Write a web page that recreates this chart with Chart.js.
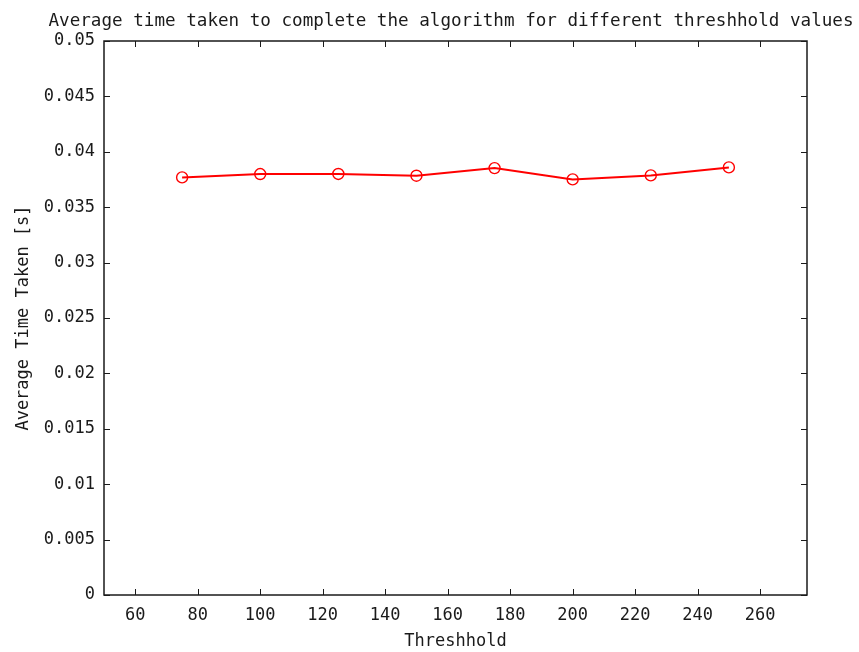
<!DOCTYPE html>
<html>
<head>
<meta charset="utf-8">
<title>Average time vs threshhold</title>
<script src="https://cdn.jsdelivr.net/npm/chart.js@4.4.1/dist/chart.umd.min.js"></script>
<style>
  html, body { margin: 0; padding: 0; background: #fff; }
  #wrap { width: 859px; height: 652px; position: relative; }
</style>
</head>
<body>
<div id="wrap"><canvas id="timeChart"></canvas></div>
<script>
// ── Data ─────────────────────────────────────────────────────
var THRESHOLDS = [75, 100, 125, 150, 175, 200, 225, 250];
var AVG_TIME   = [0.03769, 0.03799, 0.03800, 0.03784, 0.03853, 0.03751, 0.03787, 0.03859];
var X_TICKS    = [60, 80, 100, 120, 140, 160, 180, 200, 220, 240, 260];
var Y_TICKS    = [0, 0.005, 0.01, 0.015, 0.02, 0.025, 0.03, 0.035, 0.04, 0.045, 0.05];
var TITLE      = 'Average time taken to complete the algorithm for different threshhold values';

var FONT = '"DejaVu Sans Mono", "Liberation Mono", monospace';
var INK  = '#1a1a1a';

// ── Box round the plot, inward ticks on all four sides, title ─
var frame = {
  id: 'frame',
  beforeDatasetsDraw: function (chart) {
    var a = chart.chartArea, ctx = chart.ctx;
    var xs = chart.scales.x, ys = chart.scales.y, len = 6;
    ctx.save();
    ctx.strokeStyle = INK;
    ctx.lineWidth = 1.5;
    ctx.strokeRect(a.left, a.top, a.right - a.left, a.bottom - a.top);
    ctx.lineWidth = 1;
    ctx.beginPath();
    X_TICKS.forEach(function (v) {
      var px = Math.round(xs.getPixelForValue(v)) + 0.5;
      ctx.moveTo(px, a.bottom); ctx.lineTo(px, a.bottom - len);
      ctx.moveTo(px, a.top);    ctx.lineTo(px, a.top + len);
    });
    Y_TICKS.forEach(function (v) {
      var py = Math.round(ys.getPixelForValue(v)) + 0.5;
      ctx.moveTo(a.left, py);  ctx.lineTo(a.left + len, py);
      ctx.moveTo(a.right, py); ctx.lineTo(a.right - len, py);
    });
    ctx.stroke();

    // title runs wider than the plot box, so it is placed by hand
    ctx.fillStyle = INK;
    ctx.font = '17.6px ' + FONT;
    ctx.textAlign = 'center';
    ctx.textBaseline = 'middle';
    ctx.fillText(TITLE, 451, 21);
    ctx.restore();
  }
};

new Chart(document.getElementById('timeChart').getContext('2d'), {
  type: 'line',
  data: {
    datasets: [{
      label: 'Average time',
      data: THRESHOLDS.map(function (t, i) { return { x: t, y: AVG_TIME[i] }; }),
      borderColor: '#ff0000',
      borderWidth: 2,
      pointStyle: 'circle',
      pointRadius: 5.5,
      pointBorderWidth: 1.4,
      pointBorderColor: '#ff0000',
      pointBackgroundColor: 'rgba(0,0,0,0)',
      fill: false,
      tension: 0
    }]
  },
  options: {
    responsive: true,
    maintainAspectRatio: false,
    animation: false,
    layout: { padding: { left: 0, right: 52, top: 41, bottom: 0 } },
    plugins: {
      legend: { display: false },
      tooltip: { enabled: false },
      title: { display: false }
    },
    scales: {
      x: {
        type: 'linear',
        min: 50,
        max: 275,
        afterBuildTicks: function (s) { s.ticks = X_TICKS.map(function (v) { return { value: v }; }); },
        afterFit: function (s) { s.height = 57; },
        border: { display: false },
        grid: { display: false, drawTicks: false },
        ticks: { color: INK, padding: 10, maxRotation: 0, autoSkip: false, font: { family: FONT, size: 17 } },
        title: {
          display: true,
          text: 'Threshhold',
          color: INK,
          font: { family: FONT, size: 17, lineHeight: 1.2 },
          padding: { top: 0, bottom: 0 }
        }
      },
      y: {
        type: 'linear',
        min: 0,
        max: 0.05,
        afterBuildTicks: function (s) { s.ticks = Y_TICKS.map(function (v) { return { value: v }; }); },
        afterFit: function (s) { s.width = 104; },
        border: { display: false },
        grid: { display: false, drawTicks: false },
        ticks: {
          color: INK,
          padding: 9,
          autoSkip: false,
          font: { family: FONT, size: 17 },
          callback: function (v) { return String(+v.toFixed(3)); }
        },
        title: {
          display: true,
          text: 'Average Time Taken [s]',
          color: INK,
          font: { family: FONT, size: 17, lineHeight: 1.2 },
          padding: { top: 13, bottom: 0 }
        }
      }
    }
  },
  plugins: [frame]
});
</script>
</body>
</html>
